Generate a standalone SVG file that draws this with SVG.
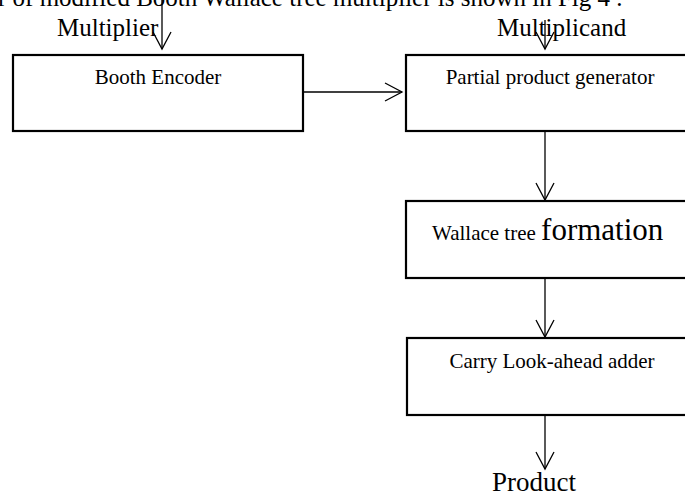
<svg xmlns="http://www.w3.org/2000/svg" width="685" height="496" viewBox="0 0 685 496">
<style>
text{font-family:"Liberation Serif","Times New Roman",serif;fill:#000}
.box{fill:#fff;stroke:#000;stroke-width:2.2}
.lbl{font-size:25px}
.bt{font-size:21px}
.con line{stroke:#000;stroke-width:1.3;fill:none}
</style>
<defs>
<marker id="ah" markerUnits="userSpaceOnUse" markerWidth="24" markerHeight="24" viewBox="-20 -12 24 24" refX="0" refY="0" orient="auto" overflow="visible">
<path d="M-17,-9 L0,0 L-17,9" fill="none" stroke="#000" stroke-width="1.3"/>
</marker>
</defs>
<rect width="685" height="496" fill="#fff"/>
<text x="-2" y="6" font-size="25">r of modified Booth Wallace tree multiplier is shown in Fig 4 .</text>
<g id="multiplier"><text class="lbl" x="57" y="36">Multiplier</text></g>
<g id="multiplicand"><text class="lbl" x="497" y="36">Multiplicand</text></g>
<g id="booth"><rect class="box" x="13" y="55" width="290" height="76"/><text class="bt" x="158" y="84" text-anchor="middle">Booth Encoder</text></g>
<g id="ppg"><rect class="box" x="406" y="55" width="290" height="76"/><text class="bt" x="550" y="84" text-anchor="middle">Partial product generator</text></g>
<g id="wallace"><rect class="box" x="406" y="201" width="290" height="77"/><text x="432" y="240"><tspan font-size="21">Wallace tree </tspan><tspan font-size="31">formation</tspan></text></g>
<g id="cla"><rect class="box" x="407" y="338" width="290" height="77"/><text class="bt" x="552" y="368" text-anchor="middle">Carry Look-ahead adder</text></g>
<g id="product"><text x="492" y="491" font-size="27">Product</text></g>
<g id="connectors" class="con">
<line x1="162" y1="0" x2="162" y2="49" marker-end="url(#ah)"/>
<line x1="545" y1="20" x2="545" y2="49" marker-end="url(#ah)"/>
<line x1="303" y1="92" x2="402" y2="92" marker-end="url(#ah)"/>
<line x1="545" y1="132" x2="545" y2="200" marker-end="url(#ah)"/>
<line x1="545" y1="279" x2="545" y2="337" marker-end="url(#ah)"/>
<line x1="545" y1="416" x2="545" y2="469" marker-end="url(#ah)"/>
</g>
</svg>
